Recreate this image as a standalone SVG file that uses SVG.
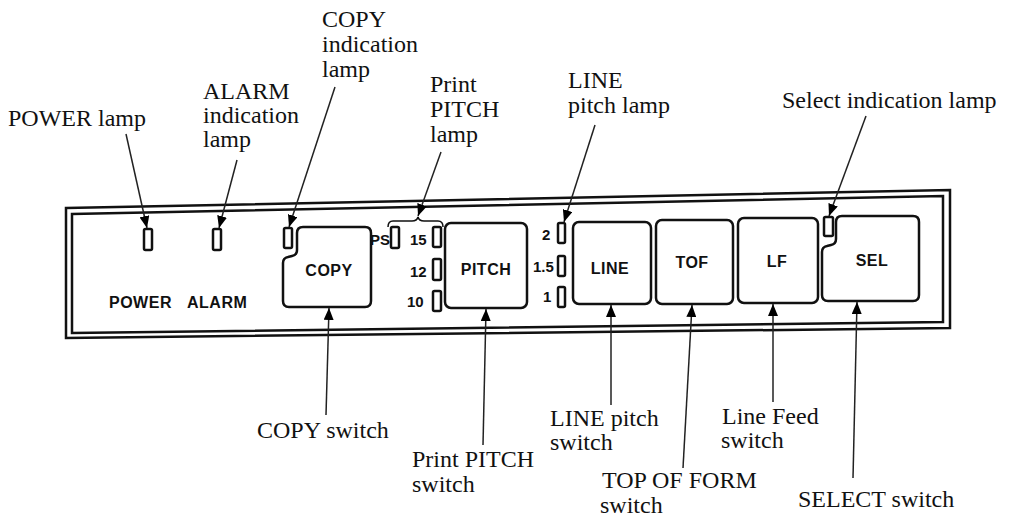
<svg xmlns="http://www.w3.org/2000/svg" width="1014" height="519" viewBox="0 0 1014 519">
<defs>
<marker id="ah" viewBox="0 0 12 10" refX="12" refY="5" markerWidth="12" markerHeight="10" markerUnits="userSpaceOnUse" orient="auto">
<path d="M0,0 L12,5 L0,10 Z" fill="#000"/>
</marker>
<style>
.lbl{font-family:"Liberation Serif","Times New Roman",serif;font-size:24px;fill:#111}
.pl{font-family:"Liberation Sans",Arial,sans-serif;font-weight:bold;font-size:16px;letter-spacing:0.5px;fill:#111}
.num{font-family:"Liberation Sans",Arial,sans-serif;font-weight:bold;font-size:15px;fill:#111}
.panel{fill:none;stroke:#111;stroke-width:2.5}
.btn{fill:#fff;stroke:#111;stroke-width:2.5}
.lamp{fill:#fff;stroke:#111;stroke-width:2.5}
.co{fill:none;stroke:#222;stroke-width:1.5;marker-end:url(#ah)}
</style>
</defs>
<rect width="1014" height="519" fill="#fff"/>
<g id="panel">
<polygon class="panel" points="66,208 950,190 950,328 66,338"/>
<polygon class="panel" points="72,214 943,196 943,322 72,333"/>
<text class="pl" x="109" y="308">POWER</text>
<text class="pl" x="187" y="308">ALARM</text>
</g>
<g id="power-lamp"><rect class="lamp" x="144" y="229" width="8" height="21" rx="1.5"/></g>
<g id="alarm-lamp"><rect class="lamp" x="213" y="229" width="8" height="21" rx="1.5"/></g>
<g id="copy-lamp"><rect class="lamp" x="284" y="228" width="8" height="20" rx="1.5"/></g>
<g id="copy-switch">
<path class="btn" d="M297,233 Q297,227 303,227 L365,227 Q371,227 371,233 L371,301 Q371,307 365,307 L289,307 Q283,307 283,301 L283,263 Q283,258 288,257 L292,256 Q297,255 297,250 Z"/>
<text class="pl" x="329" y="276" text-anchor="middle">COPY</text>
</g>
<g id="pitch-lamps">
<path d="M388,227 Q388,221 393,221 L412,221 Q417,221 418,217 Q419,221 424,221 L438,221 Q443,221 443,227" fill="none" stroke="#111" stroke-width="1.5"/>
<text class="num" x="370" y="245">PS</text>
<rect class="lamp" x="391" y="227" width="8" height="21" rx="1.5"/>
<text class="num" x="410" y="245">15</text>
<rect class="lamp" x="433" y="227" width="8" height="20" rx="1.5"/>
<text class="num" x="410" y="277">12</text>
<rect class="lamp" x="433" y="259" width="8" height="21" rx="1.5"/>
<text class="num" x="407" y="307">10</text>
<rect class="lamp" x="433" y="291" width="8" height="20" rx="1.5"/>
</g>
<g id="pitch-switch">
<rect class="btn" x="445" y="223" width="82" height="85" rx="6"/>
<text class="pl" x="486" y="275" text-anchor="middle">PITCH</text>
</g>
<g id="line-lamps">
<text class="num" x="542" y="240">2</text>
<rect class="lamp" x="558" y="223" width="7" height="20" rx="1.5"/>
<text class="num" x="533" y="272">1.5</text>
<rect class="lamp" x="558" y="256" width="7" height="20" rx="1.5"/>
<text class="num" x="543" y="302">1</text>
<rect class="lamp" x="558" y="287" width="7" height="20" rx="1.5"/>
</g>
<g id="line-switch">
<rect class="btn" x="573" y="222" width="78" height="82" rx="6"/>
<text class="pl" x="610" y="274" text-anchor="middle">LINE</text>
</g>
<g id="tof-switch">
<rect class="btn" x="656" y="220" width="77" height="84" rx="6"/>
<text class="pl" x="692" y="268" text-anchor="middle">TOF</text>
</g>
<g id="lf-switch">
<rect class="btn" x="738" y="218" width="80" height="85" rx="6"/>
<text class="pl" x="777" y="267" text-anchor="middle">LF</text>
</g>
<g id="sel-lamp"><rect class="lamp" x="824" y="217" width="9" height="19" rx="1.5"/></g>
<g id="sel-switch">
<path class="btn" d="M836,222 Q836,216 842,216 L913,216 Q919,216 919,222 L919,295 Q919,301 913,301 L828,301 Q822,301 822,295 L822,252 Q822,247 827,246 L831,245 Q836,244 836,239 Z"/>
<text class="pl" x="872" y="266" text-anchor="middle">SEL</text>
</g>
<g id="labels">
<text class="lbl" x="8" y="126">POWER lamp</text>
<text class="lbl" x="203" y="99">ALARM</text>
<text class="lbl" x="203" y="123">indication</text>
<text class="lbl" x="203" y="147">lamp</text>
<text class="lbl" x="322" y="27">COPY</text>
<text class="lbl" x="322" y="52">indication</text>
<text class="lbl" x="322" y="77">lamp</text>
<text class="lbl" x="430" y="92">Print</text>
<text class="lbl" x="430" y="117">PITCH</text>
<text class="lbl" x="430" y="142">lamp</text>
<text class="lbl" x="568" y="88">LINE</text>
<text class="lbl" x="568" y="113">pitch lamp</text>
<text class="lbl" x="782" y="108">Select indication lamp</text>
<text class="lbl" x="257" y="438">COPY switch</text>
<text class="lbl" x="412" y="467">Print PITCH</text>
<text class="lbl" x="412" y="492">switch</text>
<text class="lbl" x="550" y="426">LINE pitch</text>
<text class="lbl" x="550" y="450">switch</text>
<text class="lbl" x="602" y="488">TOP OF FORM</text>
<text class="lbl" x="600" y="513">switch</text>
<text class="lbl" x="722" y="424">Line Feed</text>
<text class="lbl" x="721" y="448">switch</text>
<text class="lbl" x="798" y="507">SELECT switch</text>
</g>
<g id="connectors">
<line class="co" x1="126" y1="134" x2="147" y2="228"/>
<line class="co" x1="237" y1="160" x2="219" y2="228"/>
<line class="co" x1="335" y1="87" x2="289" y2="227"/>
<line class="co" x1="441" y1="152" x2="418" y2="216"/>
<line class="co" x1="595" y1="125" x2="564" y2="222"/>
<line class="co" x1="866" y1="116" x2="829" y2="216"/>
<line class="co" x1="326" y1="415" x2="329" y2="308"/>
<line class="co" x1="483" y1="445" x2="486" y2="309"/>
<line class="co" x1="611" y1="405" x2="611" y2="305"/>
<line class="co" x1="683" y1="468" x2="692" y2="305"/>
<line class="co" x1="773" y1="402" x2="773" y2="304"/>
<line class="co" x1="853" y1="478" x2="857" y2="302"/>
</g>
</svg>
